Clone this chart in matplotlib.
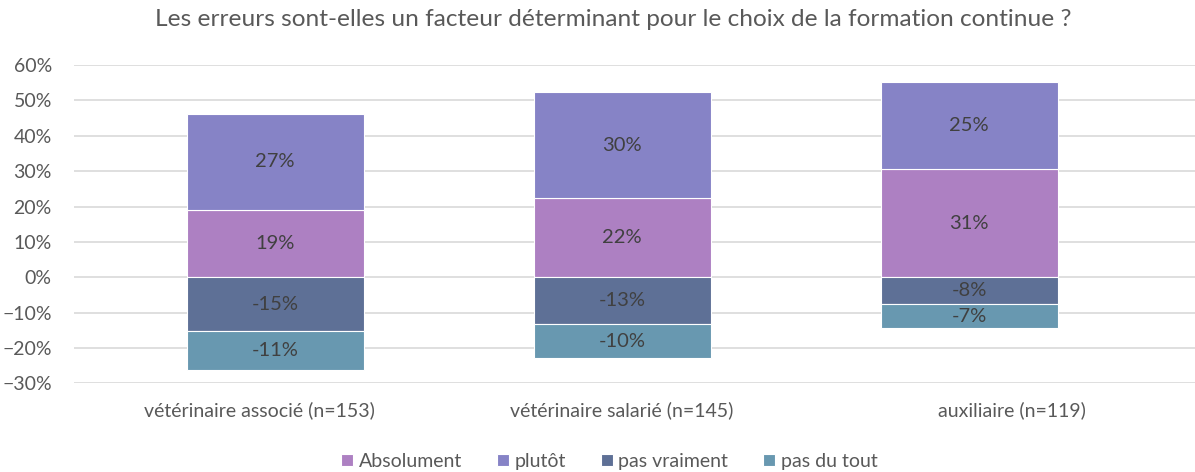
import matplotlib
matplotlib.use("Agg")
import matplotlib.pyplot as plt
import matplotlib.transforms as mtransforms
import numpy as np
from matplotlib.ticker import PercentFormatter

plt.rcParams['font.family'] = ['Lato', 'DejaVu Sans']

categories = ['vétérinaire associé (n=153)', 'vétérinaire salarié (n=145)', 'auxiliaire (n=119)']
absolument = [0.19, 0.224, 0.306]
plutot = [0.272, 0.30, 0.247]
pas_vraiment = [-0.153, -0.133, -0.076]
pas_du_tout = [-0.11, -0.096, -0.068]

series = [
    ('Absolument', absolument, '#ad80c2'),
    ('plutôt', plutot, '#8683c6'),
    ('pas vraiment', pas_vraiment, '#5e7096'),
    ('pas du tout', pas_du_tout, '#6898b0'),
]

fig = plt.figure(figsize=(11.95, 4.72), dpi=100)
ax = fig.add_axes([0.062, 0.188, 0.938, 0.674])

x = np.arange(len(categories))
width = 0.51
pos_base = np.zeros(len(categories))
neg_base = np.zeros(len(categories))
handles = []
for name, vals, color in series:
    vals = np.array(vals)
    base = np.where(vals >= 0, pos_base, neg_base)
    bars = ax.bar(x, vals, width, bottom=base, color=color, edgecolor='white',
                  linewidth=0.8, label=name, zorder=3)
    handles.append(bars)
    for xi, b, v in zip(x, base, vals):
        ax.text(xi, b + v / 2, f"{round(v * 100):.0f}%", ha='center', va='center',
                fontsize=14.5, color='#404040', zorder=4)
    pos_base = np.where(vals >= 0, pos_base + vals, pos_base)
    neg_base = np.where(vals < 0, neg_base + vals, neg_base)

ax.set_ylim(-0.30, 0.60)
ax.set_yticks(np.arange(-0.3, 0.61, 0.1))
ax.yaxis.set_major_formatter(PercentFormatter(1.0, decimals=0))
ax.set_xlim(-0.579, 2.651)
ax.set_xticks(x)
ax.set_xticklabels(categories)
ax.grid(axis='y', color='#d9d9d9', linewidth=1.2, zorder=0)
ax.tick_params(length=0, labelsize=14, colors='#595959')
ax.tick_params(axis='x', pad=13)
ax.tick_params(axis='y', pad=16)
for s in ax.spines.values():
    s.set_visible(False)

# category labels sit a little off their bars
for lbl, dx in zip(ax.get_xticklabels(), [-16, 0, 43]):
    lbl.set_transform(lbl.get_transform() + mtransforms.ScaledTranslation(dx / 100, 0, fig.dpi_scale_trans))

fig.suptitle('Les erreurs sont-elles un facteur déterminant pour le choix de la formation continue ?',
             x=0.513, y=0.98, fontsize=17.6, color='#595959')
fig.legend(handles=handles, loc='lower center', bbox_to_anchor=(0.51, -0.032), ncol=4,
           frameon=False, fontsize=14, handlelength=0.6, handleheight=0.6,
           handletextpad=0.3, columnspacing=1.8, labelcolor='#595959')

fig.savefig('out.png', dpi=100)
